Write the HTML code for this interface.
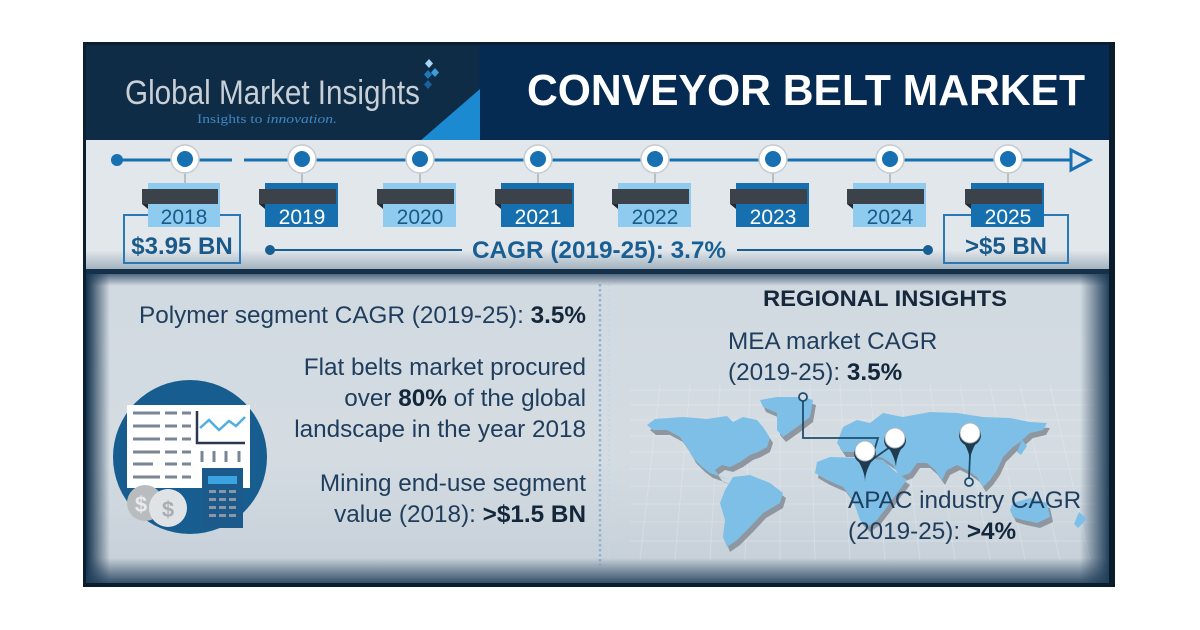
<!DOCTYPE html>
<html>
<head>
<meta charset="utf-8">
<style>
html,body{margin:0;padding:0;background:#ffffff;}
svg{display:block;}
text{font-family:"Liberation Sans",Arial,sans-serif;}
</style>
</head>
<body>
<svg width="1200" height="630" viewBox="0 0 1200 630" xmlns="http://www.w3.org/2000/svg">
<defs>
  <linearGradient id="lowerBg" x1="0" y1="0" x2="0" y2="1">
    <stop offset="0" stop-color="#d2dae1"/>
    <stop offset="0.6" stop-color="#d4dce2"/>
    <stop offset="1" stop-color="#c4ced7"/>
  </linearGradient>
  <linearGradient id="vL" x1="0" y1="0" x2="1" y2="0">
    <stop offset="0" stop-color="#12304b" stop-opacity="1"/>
    <stop offset="1" stop-color="#12304b" stop-opacity="0"/>
  </linearGradient>
  <linearGradient id="vR" x1="0" y1="0" x2="1" y2="0">
    <stop offset="0" stop-color="#1a3955" stop-opacity="0"/>
    <stop offset="1" stop-color="#1a3955" stop-opacity="0.95"/>
  </linearGradient>
  <linearGradient id="vB" x1="0" y1="0" x2="0" y2="1">
    <stop offset="0" stop-color="#1f3d5a" stop-opacity="0"/>
    <stop offset="1" stop-color="#1f3d5a" stop-opacity="0.9"/>
  </linearGradient>
  <linearGradient id="vT" x1="0" y1="0" x2="0" y2="1">
    <stop offset="0" stop-color="#1a3a56" stop-opacity="0.7"/>
    <stop offset="1" stop-color="#1a3a56" stop-opacity="0"/>
  </linearGradient>
  <linearGradient id="tlShade" x1="0" y1="0" x2="0" y2="1">
    <stop offset="0" stop-color="#4d6b85" stop-opacity="0"/>
    <stop offset="1" stop-color="#4d6b85" stop-opacity="0.45"/>
  </linearGradient>
</defs>

<!-- frame -->
<rect x="83" y="42" width="1032" height="545" fill="#0b1f33"/>
<rect x="86" y="45" width="394" height="96" fill="#0e2c46"/>
<rect x="479" y="45" width="632" height="96" fill="#062b52"/>
<polygon points="420,141 480,141 480,89" fill="#1b8ad0"/>

<!-- timeline band -->
<rect x="86" y="140" width="1023" height="131" fill="#e2e7eb"/>
<rect x="86" y="250" width="1023" height="20" fill="url(#tlShade)"/>
<rect x="86" y="269" width="1023" height="5" fill="#143149"/>

<!-- lower panel -->
<rect x="86" y="274" width="1023" height="310" fill="url(#lowerBg)"/>

<!-- map grid (faint) -->
<g stroke="#eef2f5" stroke-opacity="0.3" stroke-width="1">
  <line x1="630" y1="390" x2="1095" y2="390"/>
  <line x1="630" y1="405" x2="1095" y2="405"/>
  <line x1="630" y1="420" x2="1095" y2="420"/>
  <line x1="630" y1="436" x2="1095" y2="436"/>
  <line x1="630" y1="452" x2="1095" y2="452"/>
  <line x1="630" y1="469" x2="1095" y2="469"/>
  <line x1="630" y1="486" x2="1095" y2="486"/>
  <line x1="630" y1="504" x2="1095" y2="504"/>
  <line x1="630" y1="522" x2="1095" y2="522"/>
  <line x1="630" y1="541" x2="1095" y2="541"/>
  <line x1="660" y1="385" x2="640" y2="560"/>
  <line x1="690" y1="385" x2="675" y2="560"/>
  <line x1="720" y1="385" x2="710" y2="560"/>
  <line x1="750" y1="385" x2="745" y2="560"/>
  <line x1="780" y1="385" x2="780" y2="560"/>
  <line x1="810" y1="385" x2="815" y2="560"/>
  <line x1="840" y1="385" x2="850" y2="560"/>
  <line x1="870" y1="385" x2="885" y2="560"/>
  <line x1="900" y1="385" x2="920" y2="560"/>
  <line x1="930" y1="385" x2="955" y2="560"/>
  <line x1="960" y1="385" x2="990" y2="560"/>
  <line x1="990" y1="385" x2="1025" y2="560"/>
  <line x1="1020" y1="385" x2="1060" y2="560"/>
  <line x1="1050" y1="385" x2="1090" y2="560"/>
</g>

<!-- dotted divider -->
<line x1="600" y1="284" x2="600" y2="565" stroke="#8fb4d2" stroke-width="2.5" stroke-dasharray="2.5 2.5"/>
<line x1="609" y1="284" x2="609" y2="560" stroke="#c4d6e4" stroke-width="2.5" stroke-dasharray="2.5 2.5" stroke-opacity="0.8"/>

<!-- vignettes -->
<rect x="86" y="274" width="24" height="310" fill="url(#vL)"/>
<rect x="1080" y="274" width="29" height="310" fill="url(#vR)"/>
<rect x="86" y="558" width="1023" height="26" fill="url(#vB)"/>
<rect x="86" y="274" width="1023" height="12" fill="url(#vT)"/>

<!-- right/bottom border -->
<rect x="1109" y="42" width="6" height="545" fill="#0a1b2c"/>
<rect x="83" y="583" width="1032" height="4" fill="#0a1b2c"/>

<!-- LOGO -->
<text x="125" y="104" font-size="34" fill="#c8cfd6" textLength="295" lengthAdjust="spacingAndGlyphs">Global Market Insights</text>
<text x="197" y="123" font-size="13" fill="#3f87c4" style="font-family:'Liberation Serif',serif" textLength="140" lengthAdjust="spacingAndGlyphs">Insights to <tspan font-style="italic">innovation.</tspan></text>
<g>
  <polygon points="429,59 433,63.5 429,68 425,63.5" fill="#a6d8f3"/>
  <polygon points="435,68 439,72.5 435,77 431,72.5" fill="#3d9cd8"/>
  <polygon points="428,70 432,74.5 428,79 424,74.5" fill="#2276b8"/>
  <polygon points="428,80 432,84.5 428,89 424,84.5" fill="#1d5f98"/>
</g>

<!-- TITLE -->
<text x="527" y="105" font-size="44" font-weight="bold" fill="#ffffff" textLength="558" lengthAdjust="spacingAndGlyphs">CONVEYOR BELT MARKET</text>

<!-- TIMELINE -->
<g stroke="#1670b2" stroke-width="3" fill="none">
  <line x1="117" y1="160" x2="232" y2="160"/>
  <line x1="244" y1="160" x2="1071" y2="160"/>
  <polygon points="1071,150 1090,160 1071,170" fill="#e2e7eb" stroke-linejoin="miter"/>
</g>
<circle cx="117" cy="160" r="6" fill="#1670b2"/>

<!-- value boxes -->
<rect x="124" y="215" width="116" height="48" fill="none" stroke="#2a78b5" stroke-width="2"/>
<rect x="944" y="215" width="124" height="48" fill="none" stroke="#2a78b5" stroke-width="2"/>

<!-- nodes + year tags -->
<g id="nodes">
  <line x1="185" y1="172" x2="185" y2="184" stroke="#a9b0b6" stroke-width="1.5"/>
  <circle cx="185" cy="159" r="14" fill="#ffffff" stroke="#c4cbd1" stroke-width="1.5"/>
  <circle cx="185" cy="159" r="8" fill="#1670b2"/>
  <rect x="148" y="183" width="72" height="44" fill="#8ecbef"/>
  <rect x="142" y="189" width="76" height="15" fill="#3b4249"/>
  <polygon points="142,204 148,204 148,209" fill="#22282d"/>
  <text x="184" y="224" font-size="21" fill="#1a5a8a" text-anchor="middle">2018</text>

  <line x1="302" y1="172" x2="302" y2="184" stroke="#a9b0b6" stroke-width="1.5"/>
  <circle cx="302" cy="159" r="14" fill="#ffffff" stroke="#c4cbd1" stroke-width="1.5"/>
  <circle cx="302" cy="159" r="8" fill="#1670b2"/>
  <rect x="265" y="183" width="73" height="44" fill="#1670b0"/>
  <rect x="259" y="189" width="77" height="15" fill="#3b4249"/>
  <polygon points="259,204 265,204 265,209" fill="#22282d"/>
  <text x="302" y="224" font-size="21" fill="#ffffff" text-anchor="middle">2019</text>

  <line x1="420" y1="172" x2="420" y2="184" stroke="#a9b0b6" stroke-width="1.5"/>
  <circle cx="420" cy="159" r="14" fill="#ffffff" stroke="#c4cbd1" stroke-width="1.5"/>
  <circle cx="420" cy="159" r="8" fill="#1670b2"/>
  <rect x="383" y="183" width="73" height="44" fill="#8ecbef"/>
  <rect x="377" y="189" width="77" height="15" fill="#3b4249"/>
  <polygon points="377,204 383,204 383,209" fill="#22282d"/>
  <text x="420" y="224" font-size="21" fill="#1a5a8a" text-anchor="middle">2020</text>

  <line x1="538" y1="172" x2="538" y2="184" stroke="#a9b0b6" stroke-width="1.5"/>
  <circle cx="538" cy="159" r="14" fill="#ffffff" stroke="#c4cbd1" stroke-width="1.5"/>
  <circle cx="538" cy="159" r="8" fill="#1670b2"/>
  <rect x="501" y="183" width="73" height="44" fill="#1670b0"/>
  <rect x="495" y="189" width="77" height="15" fill="#3b4249"/>
  <polygon points="495,204 501,204 501,209" fill="#22282d"/>
  <text x="538" y="224" font-size="21" fill="#ffffff" text-anchor="middle">2021</text>

  <line x1="655" y1="172" x2="655" y2="184" stroke="#a9b0b6" stroke-width="1.5"/>
  <circle cx="655" cy="159" r="14" fill="#ffffff" stroke="#c4cbd1" stroke-width="1.5"/>
  <circle cx="655" cy="159" r="8" fill="#1670b2"/>
  <rect x="618" y="183" width="73" height="44" fill="#8ecbef"/>
  <rect x="612" y="189" width="77" height="15" fill="#3b4249"/>
  <polygon points="612,204 618,204 618,209" fill="#22282d"/>
  <text x="655" y="224" font-size="21" fill="#1a5a8a" text-anchor="middle">2022</text>

  <line x1="773" y1="172" x2="773" y2="184" stroke="#a9b0b6" stroke-width="1.5"/>
  <circle cx="773" cy="159" r="14" fill="#ffffff" stroke="#c4cbd1" stroke-width="1.5"/>
  <circle cx="773" cy="159" r="8" fill="#1670b2"/>
  <rect x="736" y="183" width="73" height="44" fill="#1670b0"/>
  <rect x="730" y="189" width="77" height="15" fill="#3b4249"/>
  <polygon points="730,204 736,204 736,209" fill="#22282d"/>
  <text x="773" y="224" font-size="21" fill="#ffffff" text-anchor="middle">2023</text>

  <line x1="890" y1="172" x2="890" y2="184" stroke="#a9b0b6" stroke-width="1.5"/>
  <circle cx="890" cy="159" r="14" fill="#ffffff" stroke="#c4cbd1" stroke-width="1.5"/>
  <circle cx="890" cy="159" r="8" fill="#1670b2"/>
  <rect x="853" y="183" width="73" height="44" fill="#8ecbef"/>
  <rect x="847" y="189" width="77" height="15" fill="#3b4249"/>
  <polygon points="847,204 853,204 853,209" fill="#22282d"/>
  <text x="890" y="224" font-size="21" fill="#1a5a8a" text-anchor="middle">2024</text>

  <line x1="1008" y1="172" x2="1008" y2="184" stroke="#a9b0b6" stroke-width="1.5"/>
  <circle cx="1008" cy="159" r="14" fill="#ffffff" stroke="#c4cbd1" stroke-width="1.5"/>
  <circle cx="1008" cy="159" r="8" fill="#1670b2"/>
  <rect x="971" y="183" width="73" height="44" fill="#1670b0"/>
  <rect x="965" y="189" width="77" height="15" fill="#3b4249"/>
  <polygon points="965,204 971,204 971,209" fill="#22282d"/>
  <text x="1008" y="224" font-size="21" fill="#ffffff" text-anchor="middle">2025</text>
</g>

<text x="182" y="254" font-size="24" font-weight="bold" fill="#1a5a8a" text-anchor="middle">$3.95 BN</text>
<text x="1006" y="254" font-size="24" font-weight="bold" fill="#1a5a8a" text-anchor="middle">&gt;$5 BN</text>

<!-- CAGR line -->
<line x1="270" y1="250" x2="462" y2="250" stroke="#1a5f94" stroke-width="2"/>
<circle cx="270" cy="250" r="5" fill="#1a5f94"/>
<text x="472" y="258" font-size="24" font-weight="bold" fill="#1a5f94" textLength="254" lengthAdjust="spacingAndGlyphs">CAGR (2019-25): 3.7%</text>
<line x1="737" y1="250" x2="928" y2="250" stroke="#1a5f94" stroke-width="2"/>
<circle cx="928" cy="250" r="5" fill="#1a5f94"/>

<!-- LEFT TEXTS -->
<g font-size="24.3" fill="#1f3d5c" text-anchor="end">
  <text x="586" y="323">Polymer segment CAGR (2019-25): <tspan font-weight="bold" fill="#13263a">3.5%</tspan></text>
  <text x="586" y="375">Flat belts market procured</text>
  <text x="586" y="406">over <tspan font-weight="bold" fill="#13263a">80%</tspan> of the global</text>
  <text x="586" y="437">landscape in the year 2018</text>
  <text x="586" y="491">Mining end-use segment</text>
  <text x="586" y="522">value (2018): <tspan font-weight="bold" fill="#13263a">&gt;$1.5 BN</tspan></text>
</g>

<!-- ICON -->
<circle cx="190" cy="457" r="77" fill="#175d8f"/>
<rect x="127" y="405" width="123" height="83" fill="#ffffff"/>
<g stroke="#7a8696" stroke-width="3">
  <line x1="133" y1="413" x2="160" y2="413"/><line x1="165" y1="413" x2="177" y2="413"/><line x1="182" y1="413" x2="191" y2="413"/>
  <line x1="133" y1="426" x2="160" y2="426"/><line x1="165" y1="426" x2="177" y2="426"/><line x1="182" y1="426" x2="191" y2="426"/>
  <line x1="133" y1="439" x2="160" y2="439"/><line x1="165" y1="439" x2="177" y2="439"/><line x1="182" y1="439" x2="191" y2="439"/>
  <line x1="133" y1="452" x2="160" y2="452"/><line x1="165" y1="452" x2="177" y2="452"/><line x1="182" y1="452" x2="191" y2="452"/>
  <line x1="133" y1="464" x2="153" y2="464"/><line x1="165" y1="464" x2="177" y2="464"/><line x1="182" y1="464" x2="191" y2="464"/>
  <line x1="133" y1="477" x2="160" y2="477"/><line x1="165" y1="477" x2="177" y2="477"/><line x1="182" y1="477" x2="191" y2="477"/>
  <line x1="202" y1="451" x2="202" y2="462"/><line x1="214" y1="451" x2="214" y2="462"/><line x1="226" y1="451" x2="226" y2="462"/><line x1="239" y1="451" x2="239" y2="462"/>
</g>
<polyline points="197,411 197,443 245,443" fill="none" stroke="#2c3652" stroke-width="2.5"/>
<polyline points="200,428 209,420 219,430 229,421 236,426 245,417" fill="none" stroke="#4fb0e0" stroke-width="2.5"/>
<rect x="202" y="468" width="41" height="60" fill="#1d5a8c"/>
<rect x="208" y="476" width="29" height="8" fill="#3aa3e0"/>
<g fill="#8c97a4">
  <rect x="209" y="490" width="7" height="3"/><rect x="219" y="490" width="7" height="3"/><rect x="229" y="490" width="7" height="3"/>
  <rect x="209" y="498" width="7" height="3"/><rect x="219" y="498" width="7" height="3"/><rect x="229" y="498" width="7" height="3"/>
  <rect x="209" y="506" width="7" height="3"/><rect x="219" y="506" width="7" height="3"/><rect x="229" y="506" width="7" height="3"/>
  <rect x="209" y="514" width="7" height="3"/><rect x="219" y="514" width="7" height="3"/><rect x="229" y="514" width="7" height="3"/>
</g>
<circle cx="145" cy="503" r="18" fill="#b9bcbf"/>
<text x="141" y="512" font-size="22" font-weight="bold" fill="#e8eaec" text-anchor="middle">$</text>
<circle cx="168" cy="508" r="19" fill="#dfe3e6"/>
<text x="168" y="517" font-size="22" font-weight="bold" fill="#a8aeb4" text-anchor="middle">$</text>

<!-- MAP shadow -->
<g fill="#8e979f" transform="translate(3,5)">
  <path d="M647,425 L655,419 L683,417 L707,419 L727,416 L733,422 L743,417 L757,420 L763,427 L770,438 L767,447 L758,452 L750,455 L740,462 L730,467 L722,465 L715,470 L720,477 L730,480 L710,473 L702,467 L693,458 L687,447 L680,437 L667,430 L653,430 Z"/>
  <path d="M760,400 L777,397 L803,397 L813,400 L810,417 L797,427 L783,437 L777,430 L777,413 L763,407 Z"/>
  <path d="M733,477 L750,475 L770,483 L783,493 L780,503 L763,513 L750,527 L737,540 L727,547 L723,537 L725,520 L720,503 L725,490 Z"/>
  <path d="M837,443 L843,427 L857,420 L870,423 L883,413 L903,417 L930,412 L957,413 L983,417 L1010,418 L1030,422 L1047,423 L1043,430 L1030,433 L1020,442 L1013,447 L1003,457 L997,470 L990,480 L983,487 L977,477 L967,470 L957,465 L947,470 L942,480 L935,470 L927,463 L917,463 L910,473 L900,477 L893,465 L883,458 L870,455 L857,452 L843,452 Z"/>
  <path d="M817,462 L830,457 L863,458 L883,460 L897,473 L907,480 L897,493 L887,507 L877,520 L867,527 L860,520 L853,500 L843,487 L827,480 L815,473 Z"/>
  <path d="M1013,503 L1030,498 L1047,503 L1050,517 L1037,523 L1023,520 L1013,517 L1010,510 Z"/>
</g>
<!-- MAP -->
<g fill="#7ebfe8">
  <path d="M647,425 L655,419 L683,417 L707,419 L727,416 L733,422 L743,417 L757,420 L763,427 L770,438 L767,447 L758,452 L750,455 L740,462 L730,467 L722,465 L715,470 L720,477 L730,480 L710,473 L702,467 L693,458 L687,447 L680,437 L667,430 L653,430 Z"/>
  <path d="M760,400 L777,397 L803,397 L813,400 L810,417 L797,427 L783,437 L777,430 L777,413 L763,407 Z"/>
  <path d="M733,477 L750,475 L770,483 L783,493 L780,503 L763,513 L750,527 L737,540 L727,547 L723,537 L725,520 L720,503 L725,490 Z"/>
  <path d="M837,443 L843,427 L857,420 L870,423 L883,413 L903,417 L930,412 L957,413 L983,417 L1010,418 L1030,422 L1047,423 L1043,430 L1030,433 L1020,442 L1013,447 L1003,457 L997,470 L990,480 L983,487 L977,477 L967,470 L957,465 L947,470 L942,480 L935,470 L927,463 L917,463 L910,473 L900,477 L893,465 L883,458 L870,455 L857,452 L843,452 Z"/>
  <path d="M817,462 L830,457 L863,458 L883,460 L897,473 L907,480 L897,493 L887,507 L877,520 L867,527 L860,520 L853,500 L843,487 L827,480 L815,473 Z"/>
  <path d="M1013,503 L1030,498 L1047,503 L1050,517 L1037,523 L1023,520 L1013,517 L1010,510 Z"/>
  <path d="M1079,512 L1087,519 L1078,528 L1074,524 Z"/>
  <path d="M1022,440 L1027,446 L1021,455 L1017,452 Z"/>
</g>

<!-- connectors -->
<g stroke="#1e4e6e" stroke-width="1.8" fill="none">
  <polyline points="803,401 803,438 878,438 872,458"/>
  <line x1="890" y1="447" x2="873" y2="459"/>
  <line x1="970" y1="455" x2="969" y2="478"/>
  <circle cx="803" cy="397" r="4" fill="#d6dee5"/>
  <circle cx="969" cy="482" r="4" fill="#d6dee5"/>
</g>

<!-- pins -->
<g>
  <path d="M855,456 Q865,470 865,482 Q865,470 875,456 Z" fill="#1f3b50"/>
  <circle cx="865" cy="453" r="11" fill="#1f3b50"/>
  <circle cx="865" cy="451" r="10" fill="#ffffff" stroke="#aab4bc" stroke-width="1"/>

  <path d="M885,442 Q895,456 896,467 Q896,456 905,442 Z" fill="#1f3b50"/>
  <circle cx="895" cy="440" r="11" fill="#1f3b50"/>
  <circle cx="895" cy="438" r="10" fill="#ffffff" stroke="#aab4bc" stroke-width="1"/>

  <path d="M960,437 Q970,451 970,462 Q970,451 980,437 Z" fill="#1f3b50"/>
  <circle cx="970" cy="435" r="11" fill="#1f3b50"/>
  <circle cx="970" cy="433" r="10" fill="#ffffff" stroke="#aab4bc" stroke-width="1"/>
</g>

<!-- RIGHT TEXTS -->
<text x="885" y="306" font-size="22" font-weight="bold" fill="#17283c" text-anchor="middle" textLength="244" lengthAdjust="spacingAndGlyphs">REGIONAL INSIGHTS</text>
<g font-size="24.3" fill="#1f3d5c">
  <text x="728" y="349">MEA market CAGR</text>
  <text x="728" y="380">(2019-25): <tspan font-weight="bold" fill="#13263a">3.5%</tspan></text>
  <text x="848" y="508">APAC industry CAGR</text>
  <text x="848" y="539">(2019-25): <tspan font-weight="bold" fill="#13263a">&gt;4%</tspan></text>
</g>
</svg>
</body>
</html>
